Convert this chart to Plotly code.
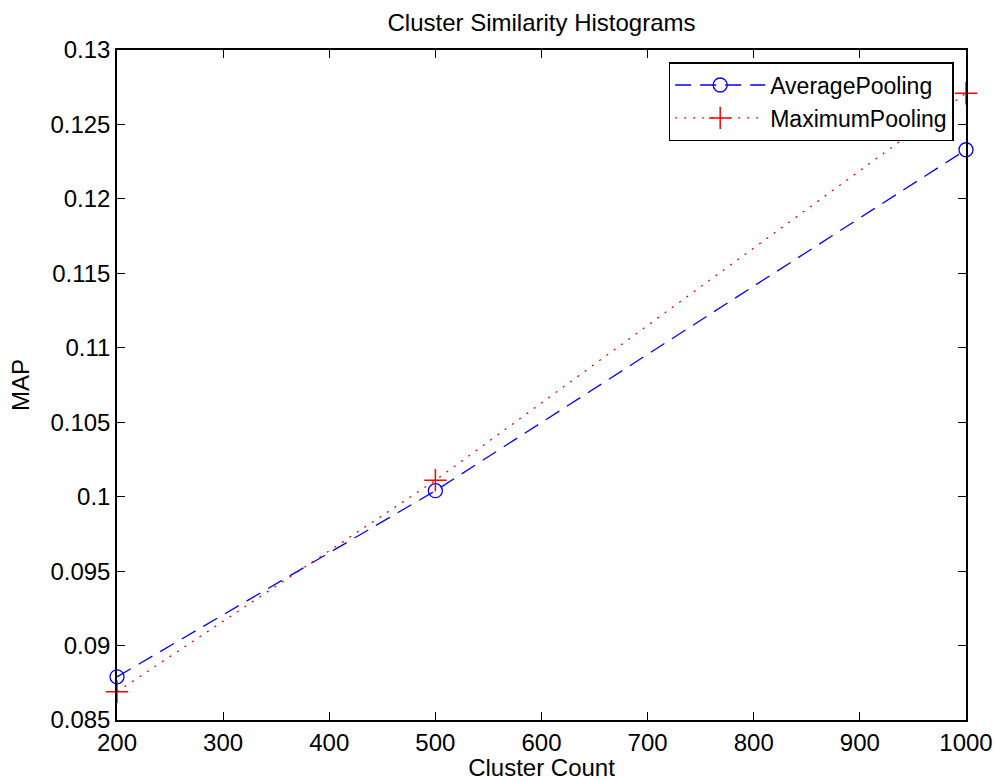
import plotly.graph_objects as go

cluster_counts = [200, 500, 1000]
average_pooling = [0.0879, 0.1004, 0.1233]
maximum_pooling = [0.0869, 0.1011, 0.1271]
y_ticks = [0.085, 0.09, 0.095, 0.1, 0.105, 0.11, 0.115, 0.12, 0.125, 0.13]
y_tick_text = ["0.085", "0.09", "0.095", "0.1", "0.105", "0.11", "0.115", "0.12", "0.125", "0.13"]
x_ticks = [200, 300, 400, 500, 600, 700, 800, 900, 1000]

FONT = "Liberation Sans, Arial, Helvetica, sans-serif"

fig = go.Figure()
fig.add_trace(go.Scatter(
    x=cluster_counts, y=average_pooling, name="AveragePooling",
    mode="lines+markers", cliponaxis=False,
    line=dict(color="#0000ff", width=1.3, dash="16px,9px"),
    marker=dict(symbol="circle-open", size=14, color="#0000ff", line=dict(width=1.3)),
))
fig.add_trace(go.Scatter(
    x=cluster_counts, y=maximum_pooling, name="MaximumPooling",
    mode="lines+markers", cliponaxis=False,
    line=dict(color="#ff0000", width=1.3, dash="2px,7px"),
    marker=dict(symbol="cross-thin-open", size=16, color="#ff0000", line=dict(width=1.5, color="#ff0000")),
))

axis_common = dict(
    showgrid=False, zeroline=False, showline=True, linecolor="black", linewidth=1.5,
    mirror="ticks", ticks="inside", ticklen=8, tickwidth=1, tickcolor="black",
    tickfont=dict(family=FONT, size=24, color="black"), automargin=False,
)

fig.update_layout(
    width=995, height=781,
    margin=dict(l=117, r=29, t=50, b=61),
    paper_bgcolor="white", plot_bgcolor="white",
    title=dict(text="Cluster Similarity Histograms", x=(117 + 966) / 2 / 995, xanchor="center",
               y=1 - 23 / 781, yanchor="middle",
               font=dict(family=FONT, size=24, color="black")),
    xaxis=dict(range=[200, 1000], tickvals=x_ticks,
               title=dict(text="Cluster Count", standoff=0,
                          font=dict(family=FONT, size=24, color="black")),
               **axis_common),
    yaxis=dict(range=[0.085, 0.13], tickvals=y_ticks, ticktext=y_tick_text,
               title=dict(text="MAP", standoff=14,
                          font=dict(family=FONT, size=24, color="black")),
               **axis_common),
    legend=dict(x=0.9855, y=0.982, xanchor="right", yanchor="top",
                bgcolor="white", bordercolor="black", borderwidth=1.5,
                font=dict(family=FONT, size=23, color="black"),
                tracegroupgap=0, itemwidth=90),
    showlegend=True,
)

fig.write_html("out.html")
